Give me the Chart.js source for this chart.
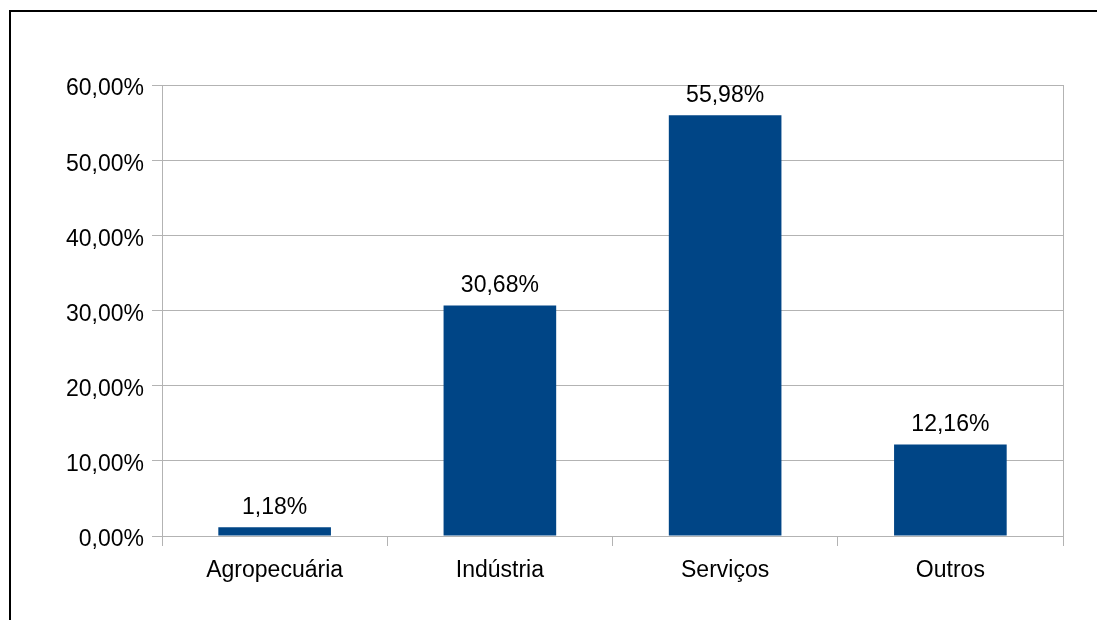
<!DOCTYPE html>
<html>
<head>
<meta charset="utf-8">
<script src="https://cdn.jsdelivr.net/npm/chart.js@4/dist/chart.umd.min.js"></script>
<style>
html,body{margin:0;padding:0;background:#fff;}
#wrap{position:relative;width:1097px;height:620px;}
</style>
</head>
<body>
<div id="wrap"><canvas id="c" width="1097" height="620"></canvas></div>
<script>
const categories = ["Agropecuária", "Indústria", "Serviços", "Outros"];
const values = [1.18, 30.68, 55.98, 12.16];
const yTicks = [0, 10, 20, 30, 40, 50, 60];

const FONT = "'Liberation Sans', Arial, sans-serif";
const FS = 23;
const fmt = v => v.toFixed(2).replace('.', ',') + '%';

const frame = {
  id: 'frame',
  beforeDraw(chart) {
    const ctx = chart.ctx;
    ctx.save();
    ctx.fillStyle = '#fff';
    ctx.fillRect(0, 0, chart.width, chart.height);
    ctx.fillStyle = '#000';
    ctx.fillRect(9, 10, 2, chart.height - 10);
    ctx.fillRect(9, 10, chart.width - 9, 2);
    ctx.restore();
  },
  afterDraw(chart) {
    const ctx = chart.ctx, a = chart.chartArea;
    ctx.save();
    ctx.strokeStyle = '#b3b3b3';
    ctx.lineWidth = 1;
    ctx.beginPath();
    ctx.moveTo(Math.round(a.right) + 0.5, a.top);
    ctx.lineTo(Math.round(a.right) + 0.5, a.bottom);
    ctx.stroke();
    ctx.restore();
  }
};

const dataLabels = {
  id: 'dataLabels',
  afterDatasetsDraw(chart) {
    const ctx = chart.ctx;
    ctx.save();
    ctx.font = FS + 'px ' + FONT;
    ctx.fillStyle = '#000';
    ctx.textAlign = 'center';
    ctx.textBaseline = 'bottom';
    chart.getDatasetMeta(0).data.forEach((bar, i) => {
      ctx.fillText(fmt(values[i]), bar.x, bar.y - 8);
    });
    ctx.restore();
  }
};

new Chart(document.getElementById('c'), {
  type: 'bar',
  data: {
    labels: categories,
    datasets: [{
      data: values,
      backgroundColor: '#004586',
      borderWidth: 0,
      barPercentage: 0.5,
      categoryPercentage: 1.0
    }]
  },
  options: {
    responsive: false,
    animation: false,
    devicePixelRatio: 1,
    layout: { padding: { left: 0, right: 34, top: 85, bottom: 0 } },
    plugins: { legend: { display: false }, tooltip: { enabled: false } },
    scales: {
      x: {
        offset: true,
        grid: { offset: true, drawOnChartArea: false, drawTicks: true, tickLength: 10, color: '#b3b3b3' },
        border: { display: true, color: '#b3b3b3' },
        ticks: { font: { family: FONT, size: FS }, color: '#000', padding: 11, maxRotation: 0 },
        afterFit(scale) { scale.height = 84; }
      },
      y: {
        min: 0,
        max: 60,
        afterBuildTicks(scale) { scale.ticks = yTicks.map(v => ({ value: v })); },
        grid: { color: '#b3b3b3', tickLength: 10, drawTicks: true },
        border: { display: true, color: '#b3b3b3' },
        ticks: { font: { family: FONT, size: FS }, color: '#000', padding: 8, labelOffset: 4, callback: v => fmt(v) },
        afterFit(scale) { scale.width = 162; }
      }
    }
  },
  plugins: [frame, dataLabels]
});
</script>
</body>
</html>
